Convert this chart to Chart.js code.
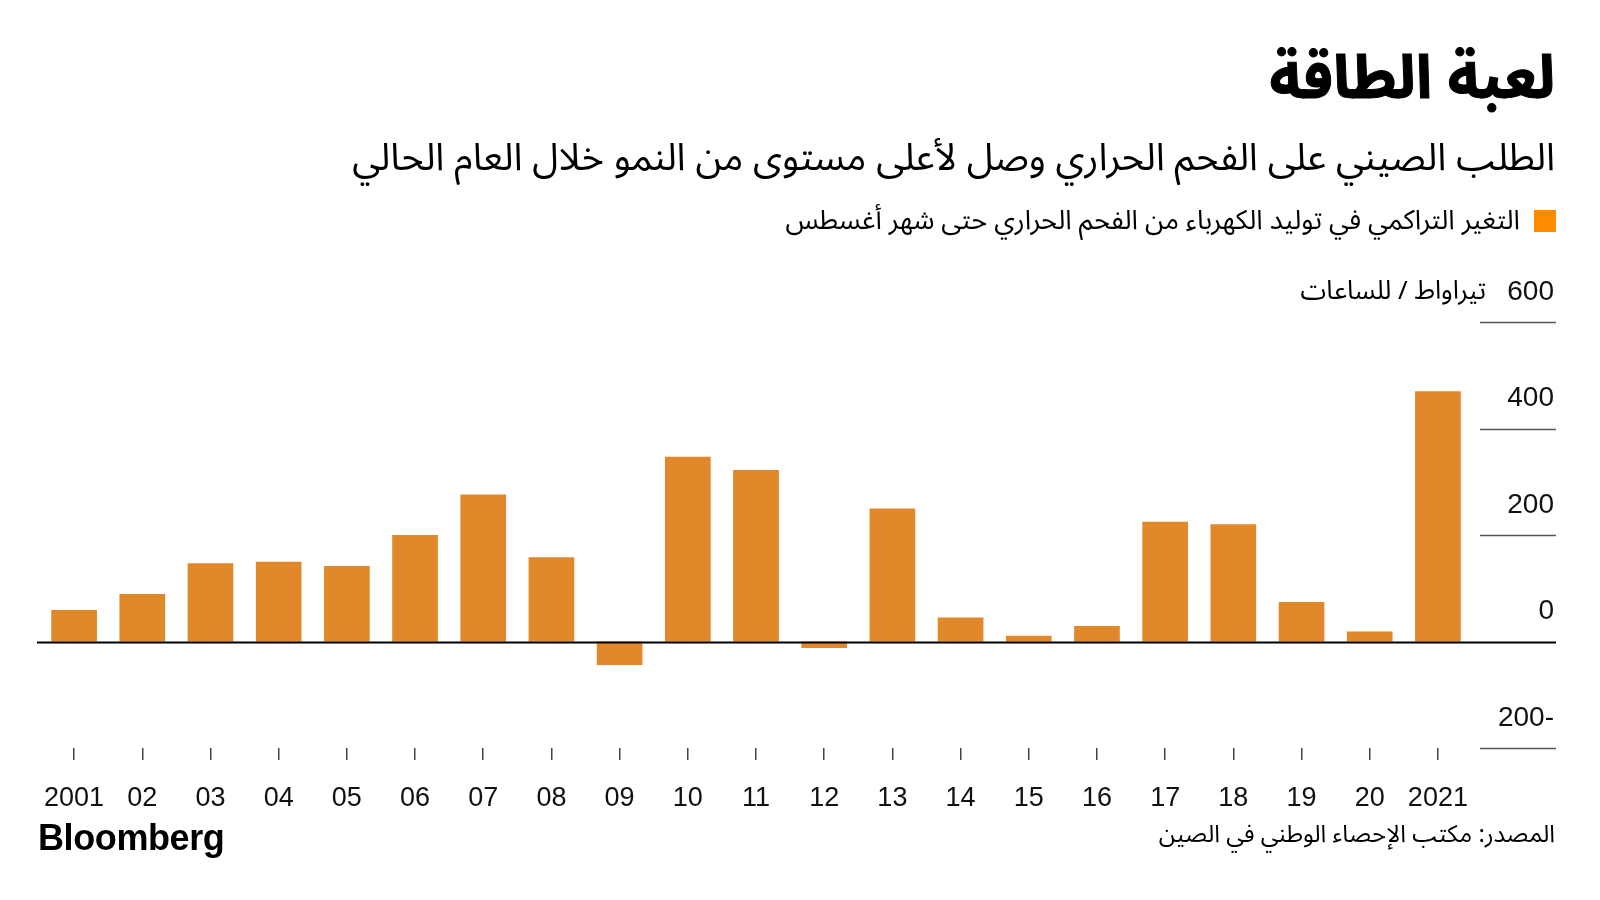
<!DOCTYPE html>
<html><head><meta charset="utf-8">
<script src="https://cdn.jsdelivr.net/npm/chart.js@4.4.1/dist/chart.umd.min.js"></script>
<style>
html,body{margin:0;padding:0;background:#fff;width:1600px;height:900px;overflow:hidden}
#wrap{position:absolute;left:0;top:0;width:1600px;height:900px}
canvas{position:absolute;left:0;top:0}
.t{position:absolute;white-space:nowrap;color:#000;font-family:'Noto Sans Arabic','DejaVu Sans',sans-serif;direction:rtl}
#title{right:45px;top:46px;font-size:60px;line-height:66px;font-weight:bold;-webkit-text-stroke:1px #000}
#sub{right:45px;top:135px;font-size:38px;line-height:46px}
#leg{right:80px;top:204px;font-size:27px;line-height:34px}
#sq{position:absolute;left:1534px;top:210px;width:22px;height:22px;background:#FF8A00}
#unit{right:114px;top:275px;font-size:26px;line-height:32px}
#src{right:45px;top:819px;font-size:24px;line-height:32px}
#bb{position:absolute;left:38px;top:817px;font-family:'Liberation Sans',Arial,sans-serif;font-weight:bold;font-size:36px;line-height:42px;letter-spacing:-0.4px;color:#000}
</style></head>
<body>
<div id="wrap">
<canvas id="c" width="1600" height="900"></canvas>
<div class="t" id="title">لعبة الطاقة</div>
<div class="t" id="sub">الطلب الصيني على الفحم الحراري وصل لأعلى مستوى من النمو خلال العام الحالي</div>
<div id="sq"></div>
<div class="t" id="leg">التغير التراكمي في توليد الكهرباء من الفحم الحراري حتى شهر أغسطس</div>
<div class="t" id="unit">تيراواط / للساعات</div>
<div class="t" id="src">المصدر: مكتب الإحصاء الوطني في الصين</div>
<div id="bb">Bloomberg</div>
</div>
<script>
const years = ['2001','02','03','04','05','06','07','08','09','10','11','12','13','14','15','16','17','18','19','20','2021'];
const coalChange = [59, 89, 147, 150, 142, 200, 276, 158, -44, 347, 322, -12, 250, 45, 11, 29, 225, 220, 74, 19, 470];
const yTickValues = [-200, 0, 200, 400, 600];
const yTickLabels = ['200-', '0', '200', '400', '600'];

const BAR = '#E0882A';

const deco = {
  id: 'deco',
  afterDatasetsDraw(chart) {
    const y = chart.scales.y, ctx = chart.ctx, ca = chart.chartArea;
    ctx.save();
    ctx.strokeStyle = '#555';
    ctx.lineWidth = 1.5;
    y.ticks.forEach(t => {
      if (t.value === 0) return;
      const p = Math.round(y.getPixelForValue(t.value)) + 0.5;
      ctx.beginPath(); ctx.moveTo(ca.right + 8, p); ctx.lineTo(y.right + 2, p); ctx.stroke();
    });
    const p0 = Math.round(y.getPixelForValue(0)) + 0.5;
    ctx.strokeStyle = '#000';
    ctx.lineWidth = 2;
    ctx.beginPath(); ctx.moveTo(37, p0); ctx.lineTo(y.right + 2, p0); ctx.stroke();
    ctx.restore();
  }
};

new Chart(document.getElementById('c'), {
  type: 'bar',
  data: {
    labels: years,
    datasets: [{ data: coalChange, backgroundColor: BAR, borderWidth: 0, categoryPercentage: 1, barPercentage: 0.67 }]
  },
  options: {
    responsive: false,
    animation: false,
    devicePixelRatio: 1,
    layout: { padding: { left: 40, top: 322, right: 46, bottom: 0 } },
    plugins: { legend: { display: false }, tooltip: { enabled: false } },
    scales: {
      x: {
        offset: true,
        grid: { drawOnChartArea: false, drawTicks: true, tickLength: 12, color: '#444', lineWidth: 1.5, offset: false },
        border: { display: false },
        ticks: { font: { family: "'Liberation Sans', Arial, sans-serif", size: 27 }, color: '#111', padding: 22, maxRotation: 0, autoSkip: false },
        afterFit(s) { s.height = 152; }
      },
      y: {
        position: 'right',
        min: -200, max: 600,
        afterBuildTicks(s) { s.ticks = yTickValues.map(v => ({ value: v })); },
        grid: { display: false },
        border: { display: false },
        ticks: {
          font: { family: "'Liberation Sans', Arial, sans-serif", size: 28 },
          color: '#111',
          crossAlign: 'far',
          labelOffset: -30,
          padding: 0,
          callback: (v) => yTickLabels[yTickValues.indexOf(v)]
        },
        afterFit(s) { s.width = 82; }
      }
    }
  },
  plugins: [deco]
});
</script>
</body></html>
